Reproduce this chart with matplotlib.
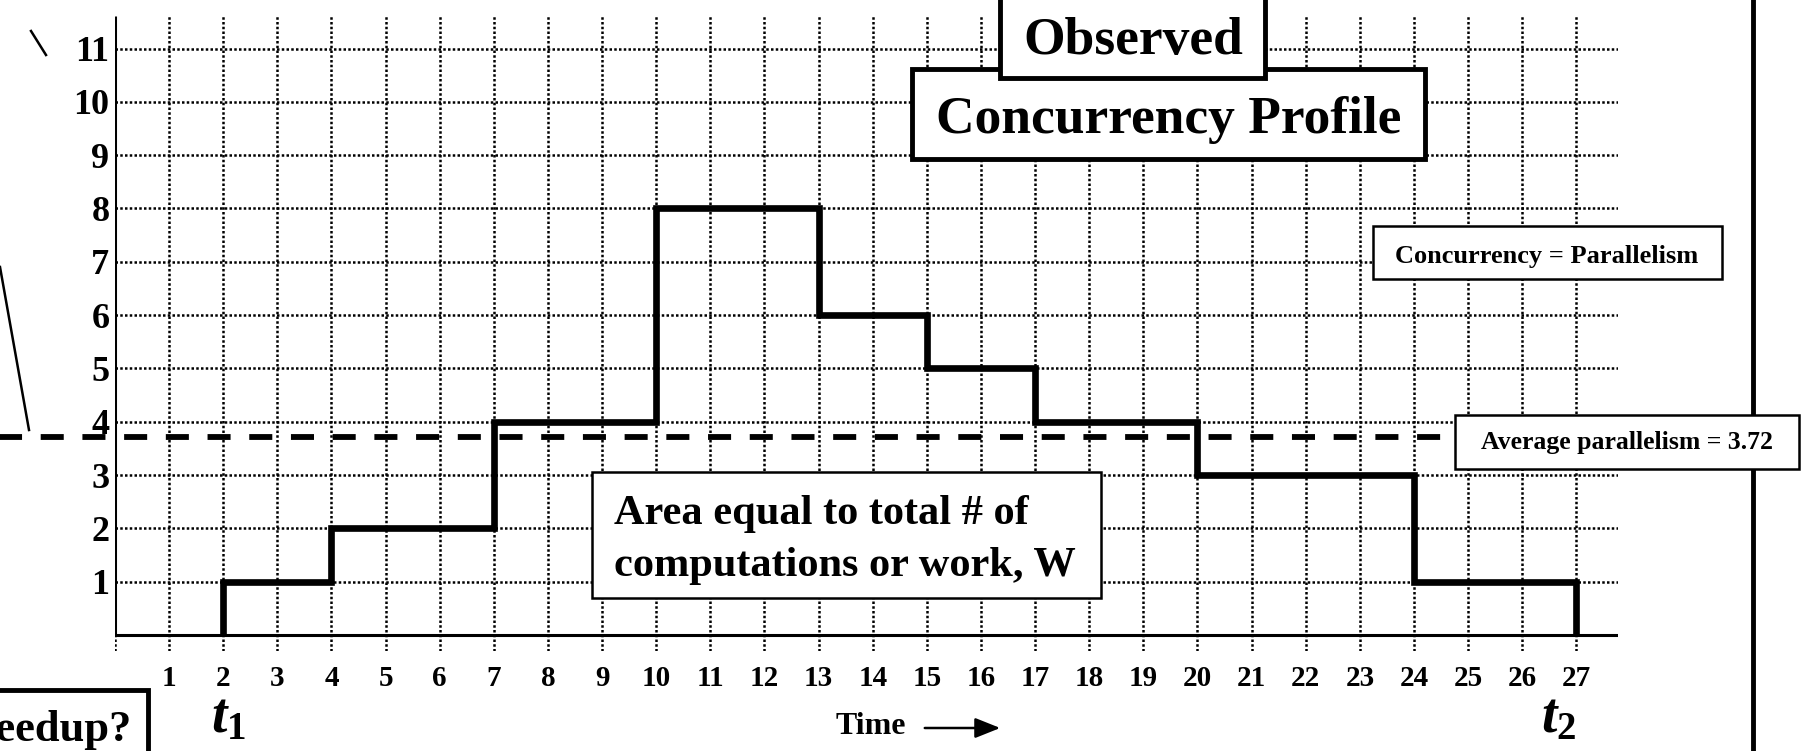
import matplotlib
matplotlib.use("Agg")
import matplotlib.pyplot as plt
from matplotlib.patches import Rectangle
from matplotlib.lines import Line2D
import numpy as np

# concurrency profile: interval edges (time) and degree of parallelism in each interval
edges = [2, 4, 7, 10, 13, 15, 17, 20, 24, 27]
levels = [1, 2, 4, 8, 6, 5, 4, 3, 1]
x_ticks = list(range(1, 28))
y_ticks = list(range(1, 12))

W, H = 1806, 751

plt.rcParams['font.family'] = ['Liberation Serif', 'DejaVu Serif']
plt.rcParams['font.weight'] = 'bold'
plt.rcParams['mathtext.fontset'] = 'custom'
plt.rcParams['mathtext.it'] = 'Liberation Serif:italic:bold'
plt.rcParams['mathtext.rm'] = 'Liberation Serif:bold'


def fx(px):
    return px / W


def fy(py):
    return 1 - py / H


def box(x0, y0, x1, y1, lw, z=4):
    fig.add_artist(Rectangle((fx(x0), fy(y1)), (x1 - x0) / W, (y1 - y0) / H,
                             transform=fig.transFigure, facecolor='white',
                             edgecolor='black', lw=lw, zorder=z))


fig = plt.figure(figsize=(W / 100, H / 100), dpi=100)
ax = fig.add_axes([fx(115), fy(651), (1618 - 115) / W, (651 - 16) / H])
ax.set_xlim(0, 27.77)
ax.set_ylim(-0.3, 11.61)

ax.set_xticks([0] + x_ticks)
ax.set_xticklabels([''] + [str(t) for t in x_ticks], fontsize=21, fontweight='bold')
ax.set_yticks(y_ticks)
ax.set_yticklabels([str(t) for t in y_ticks], fontsize=26, fontweight='bold')
ax.tick_params(length=0)
ax.tick_params(axis='x', pad=10)
ax.tick_params(axis='y', pad=4)
ax.grid(True, color='black', linestyle=(0, (1, 0.9)), linewidth=1.8)
for s in ax.spines.values():
    s.set_visible(False)

# axes drawn by hand: solid from the origin only
ax.plot([0, 0], [0, ax.get_ylim()[1]], color='black', lw=2.2, solid_capstyle='butt')
ax.axhline(0, color='black', lw=2.2)

ax.stairs(levels, edges, baseline=0, color='black', lw=4.8, zorder=3)

avg = np.sum(np.diff(edges) * np.array(levels)) / (edges[-1] - edges[0])
ax.axhline(avg, xmin=-0.08, xmax=1.0, color='black', lw=4.2,
           linestyle=(0, (3.95, 3.2)), clip_on=False, zorder=2)

# right border of the slide
fig.add_artist(Line2D([fx(1753), fx(1753)], [0, 1], color='black', lw=3.5, zorder=3))

# leftovers of arrows cropped from the slide
fig.add_artist(Line2D([fx(31), fx(46)], [fy(31), fy(55)], color='black', lw=1.8))
fig.add_artist(Line2D([fx(0), fx(29)], [fy(267), fy(430)], color='black', lw=1.8))

# title boxes
box(912, 69, 1425, 159, 3.5)
fig.text(fx(1169), fy(120), 'Concurrency Profile', ha='center', va='center',
         fontsize=38.5, zorder=6)
box(1000, -10, 1265, 78, 3.5, z=4.5)
fig.text(fx(1133), fy(41), 'Observed', ha='center', va='center',
         fontsize=38.5, zorder=6)

box(1373, 226, 1722, 279, 1.8)
fig.text(fx(1547), fy(256), 'Concurrency = Parallelism', ha='center', va='center',
         fontsize=19, zorder=6)

box(1455, 415, 1799, 469, 1.8)
fig.text(fx(1627), fy(443), f'Average parallelism = {avg:.2f}', ha='center',
         va='center', fontsize=18.5, zorder=6)

box(592, 472, 1101, 598, 1.8)
fig.text(fx(614), fy(514), 'Area equal to total # of', ha='left', va='center',
         fontsize=30.5, zorder=6)
fig.text(fx(614), fy(566), 'computations or work, W', ha='left', va='center',
         fontsize=30.5, zorder=6)

box(-20, 690, 148, 800, 3.5)
fig.text(fx(132), fy(741), 'Speedup?', ha='right', va='baseline',
         fontsize=32, zorder=6)

# time markers
ax.text(2.1, -1.56, r'$t_\mathrm{1}$', ha='center', va='center', fontsize=40)
ax.text(27, -1.56, r'$t_\mathrm{2}$', ha='right', va='center', fontsize=40)

fig.text(fx(906), fy(727), 'Time', ha='right', va='center', fontsize=23, zorder=6)
ax.annotate('', xy=(fx(1003), fy(728)), xytext=(fx(922), fy(728)),
            xycoords='figure fraction', textcoords='figure fraction',
            arrowprops=dict(arrowstyle='-|>,head_length=0.7,head_width=0.28',
                            color='black', lw=1.8, mutation_scale=22))

fig.savefig('out.png', dpi=100)
